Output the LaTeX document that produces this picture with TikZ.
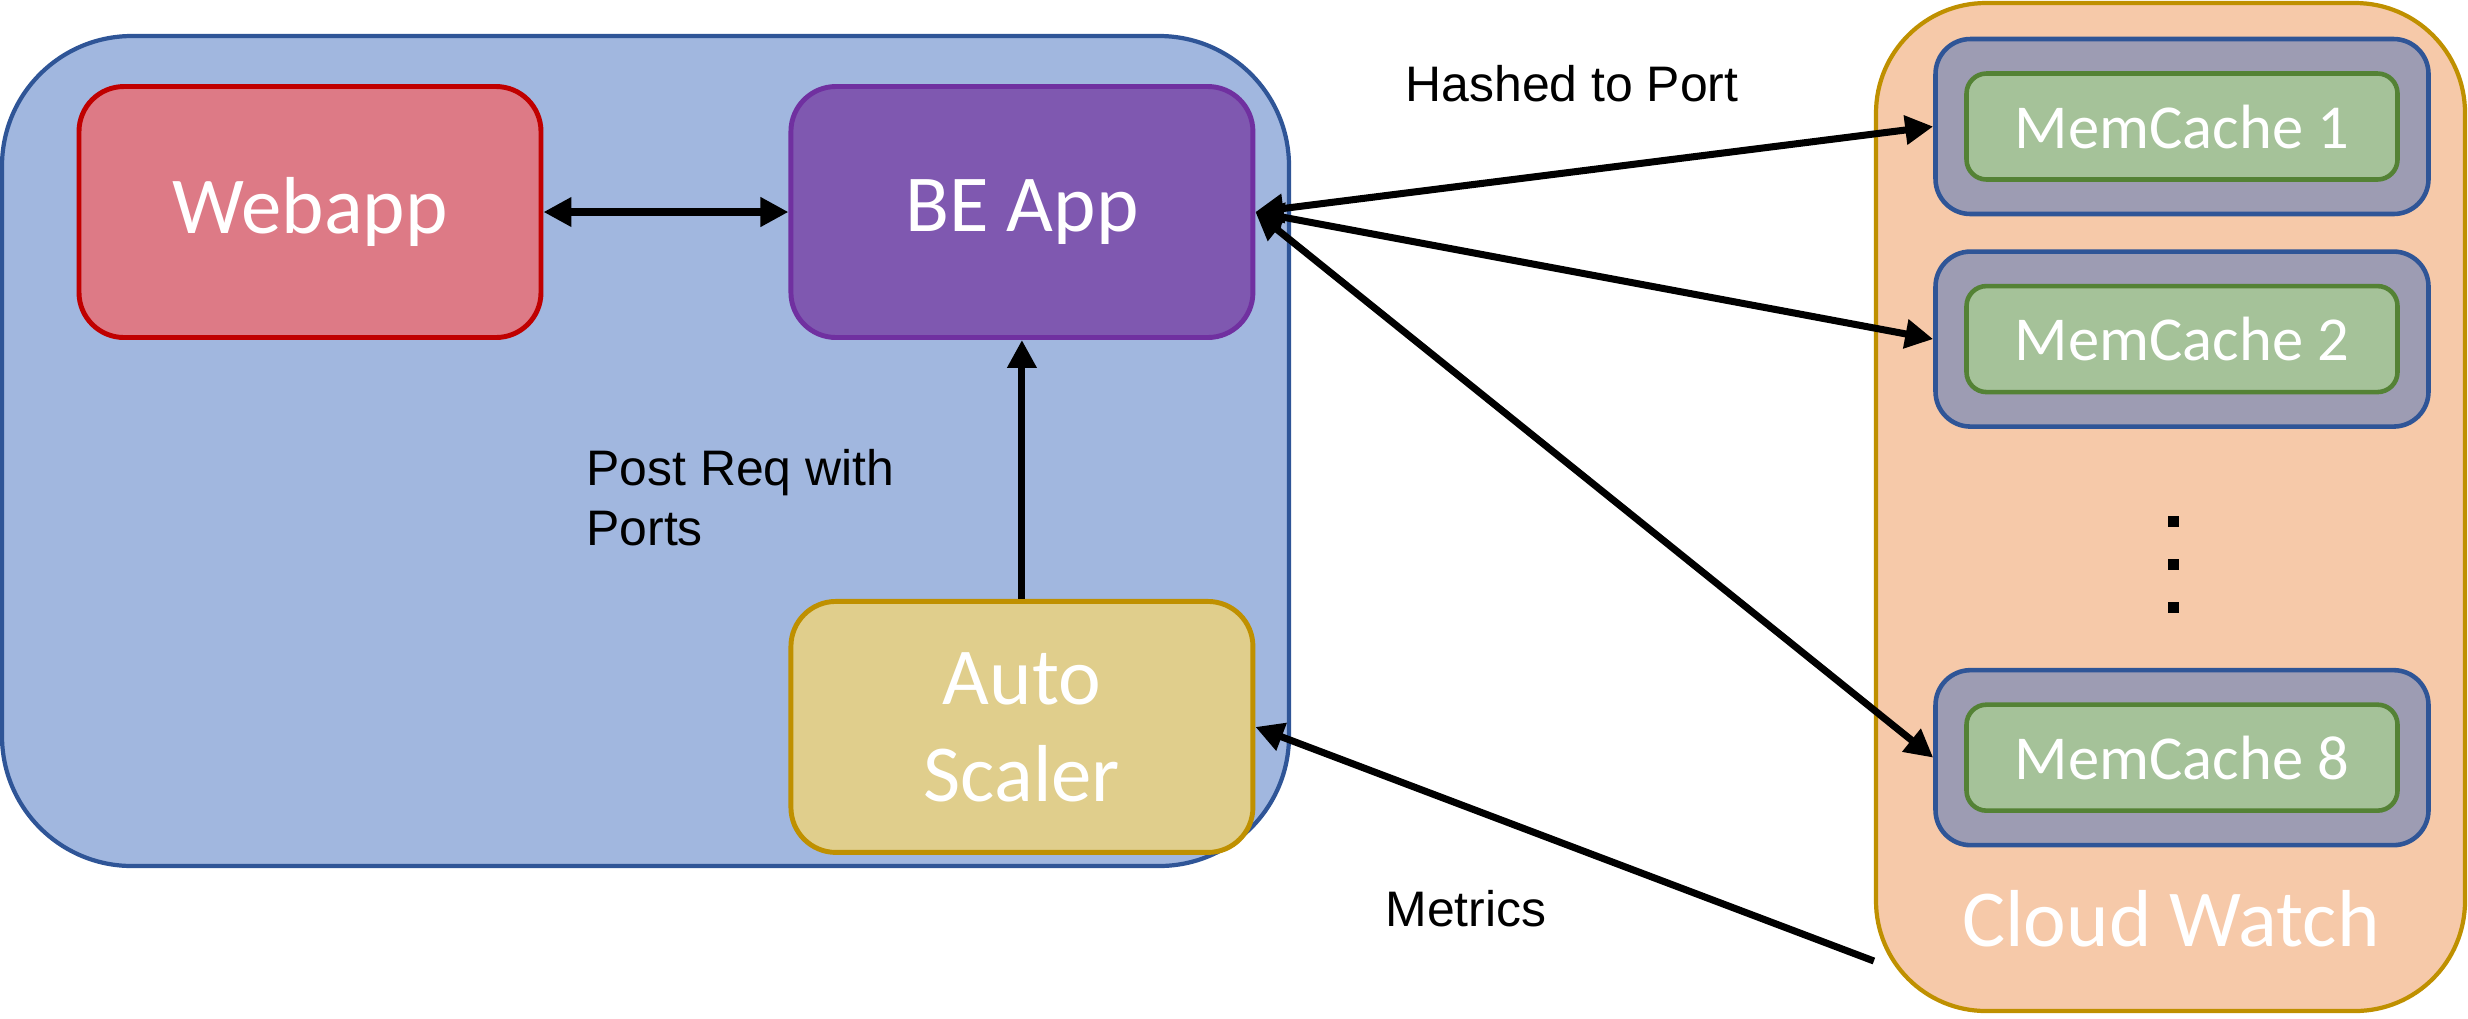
\documentclass[tikz,border=0pt]{standalone}
\usepackage{fontspec}
\setmainfont{Carlito}
\newfontfamily\arialfont{Liberation Sans}
\usepackage{xcolor}
\usepackage{tikz}
\usetikzlibrary{positioning,arrows.meta,backgrounds}

\definecolor{hostfill}{HTML}{A1B7DF}
\definecolor{hostline}{HTML}{2F5597}
\definecolor{webfill}{HTML}{DD7A86}
\definecolor{webline}{HTML}{C00000}
\definecolor{befill}{HTML}{7F58B0}
\definecolor{beline}{HTML}{7030A0}
\definecolor{goldfill}{HTML}{E0CE8C}
\definecolor{goldline}{HTML}{BF9000}
\definecolor{cwfill}{HTML}{F6C9A9}
\definecolor{slotfill}{HTML}{9D9CB3}
\definecolor{cachefill}{HTML}{A5C299}
\definecolor{cacheline}{HTML}{548235}

\begin{document}
\begin{tikzpicture}[align=center,
    >={Triangle[length=0.28cm,width=0.28cm]},
    app/.style={draw, line width=1.4pt, rounded corners=0.45cm, minimum height=2.51cm, minimum width=4.62cm, text=white, font=\fontsize{23}{27.6}\selectfont},
    slot/.style={draw=hostline, fill=slotfill, line width=1.3pt, rounded corners=0.35cm, minimum height=1.75cm, minimum width=4.93cm},
    cache/.style={draw=cacheline, fill=cachefill, line width=1.3pt, rounded corners=0.2cm, minimum height=1.06cm, minimum width=4.31cm, text=white, font=\fontsize{17.8}{21}\selectfont},
    note/.style={font=\arialfont\fontsize{14.2}{17}\selectfont},
    flow/.style={line width=2pt}]
    \useasboundingbox (0,0) rectangle (24.68,-10.18);

    \node [app, draw=webline, fill=webfill] (webapp) at (3.10,-2.12) {Webapp};
    \node [app, draw=beline, fill=befill, right=2.45cm of webapp] (be) {BE App};
    \node [app, draw=goldline, fill=goldfill, below=2.59cm of be] (scaler) {Auto\\Scaler};

    \node [slot] (mc1box) at (21.82,-1.265) {};
    \node [slot, below=0.33cm of mc1box] (mc2box) {};
    \node [slot, below=2.39cm of mc2box] (mc8box) {};
    \node [cache] (mc1) at (mc1box) {MemCache 1};
    \node [cache] (mc2) at (mc2box) {MemCache 2};
    \node [cache] (mc8) at (mc8box) {MemCache 8};

    \foreach \y in {5.21,5.64,6.07}
        \node [fill, minimum size=0.11cm, inner sep=0pt] at (21.73,-\y) {};

    \node [text=white, font=\fontsize{23}{27.6}\selectfont] (cwname) at (21.71,-9.19) {Cloud Watch};

    \node [note] (hashed) at (15.72,-0.84) {Hashed to Port};
    \node [note, align=left, anchor=west] (postreq) at (5.74,-4.98) {Post Req with\\Ports};
    \node [note] (metrics) at (14.66,-9.09) {Metrics};

    \draw[flow, <->] (webapp) -- (be);
    \draw[flow, ->] (scaler) -- (be);
    \draw[flow, <->] (be.east) -- (mc1box.west);
    \draw[flow, <->] (be.east) -- (mc2box.west);
    \draw[flow, <->] (be.east) -- (mc8box.west);

    \begin{scope}[on background layer]
        \node [draw=hostline, fill=hostfill, line width=1.2pt, rounded corners=1.3cm, minimum width=12.87cm, minimum height=8.30cm] (host) at (6.455,-4.51) {};
        \node [draw=goldline, fill=cwfill, line width=1.2pt, rounded corners=1.1cm, minimum width=5.89cm, minimum height=10.08cm] (cloud) at (21.705,-5.07) {};
    \end{scope}

    \coordinate (cwtap) at ([yshift=-4.54cm]cloud.west);
    \draw[flow, ->] (cwtap) -- (scaler.east);

\end{tikzpicture}
\end{document}
